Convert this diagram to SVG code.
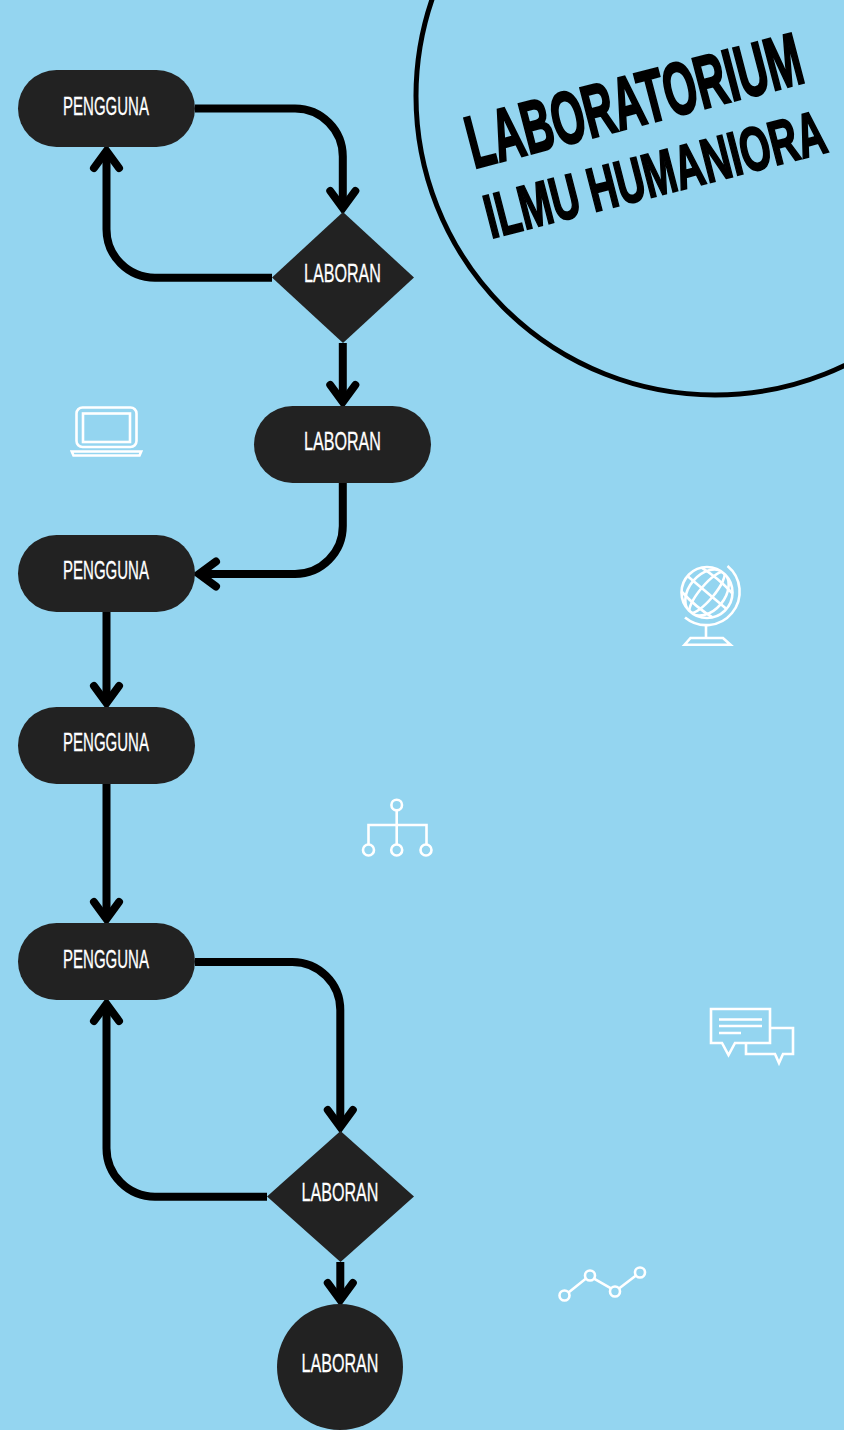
<svg xmlns="http://www.w3.org/2000/svg" width="844" height="1430" viewBox="0 0 844 1430">
<style>
.node{fill:#222222}
.lbl{font-family:"Liberation Sans",Arial,sans-serif;font-size:26.500px;fill:#ffffff;stroke:#ffffff;stroke-width:.3;text-anchor:middle}
.title{font-family:"Liberation Sans",Arial,sans-serif;font-weight:700;fill:#000000;stroke:#000000}
.conn{fill:none;stroke:#000000;stroke-width:8;marker-end:url(#chev)}
.icon{fill:none;stroke:#ffffff;stroke-width:2.600}
</style>
<defs>
<marker id="chev" markerUnits="userSpaceOnUse" markerWidth="40" markerHeight="40" refX="20" refY="20" orient="auto" overflow="visible">
<path d="M3,7.500 L20,20 L3,32.500" fill="none" stroke="#000000" stroke-width="8" stroke-linecap="round" stroke-linejoin="miter"/>
</marker>
<clipPath id="globeClip"><circle cx="707" cy="592.500" r="25"/></clipPath>
</defs>
<rect width="844" height="1430" fill="#94d5f0"/>
<g id="title">
<circle cx="715" cy="96" r="299" fill="none" stroke="#000000" stroke-width="5"/>
<text class="title" font-size="74" stroke-width="2.500" textLength="593" lengthAdjust="spacingAndGlyphs" transform="translate(474,168.500) rotate(-14.600) scale(.58,1)">LABORATORIUM</text>
<text class="title" font-size="62" stroke-width="2" textLength="555" lengthAdjust="spacingAndGlyphs" transform="translate(491,238.500) rotate(-14.400) scale(.63,1)">ILMU HUMANIORA</text>
</g>
<g id="connectors">
<path class="conn" d="M195,108.500 H295 A48,48 0 0 1 342.800,156.500 V208"/>
<path class="conn" d="M272,277.700 H155 A48.500,48.500 0 0 1 106.500,229 V151"/>
<path class="conn" d="M342.800,343 V402"/>
<path class="conn" d="M342.800,483 V526 A48,48 0 0 1 295,574 H199"/>
<path class="conn" d="M106.500,612 V703"/>
<path class="conn" d="M106.500,784 V919"/>
<path class="conn" d="M195,962 H292 A48,48 0 0 1 340.300,1010 V1127"/>
<path class="conn" d="M267,1196.700 H155 A48.500,48.500 0 0 1 106.500,1148 V1004"/>
<path class="conn" d="M340.300,1262 V1300"/>
</g>
<g id="n1"><rect class="node" x="18" y="70" width="177" height="77" rx="38.500"/><text class="lbl" textLength="150" lengthAdjust="spacingAndGlyphs" transform="translate(106,114.500) scale(.573,1)">PENGGUNA</text></g>
<g id="n2"><polygon class="node" points="343,212 414,277.500 343,343 272,277.500"/><text class="lbl" textLength="126" lengthAdjust="spacingAndGlyphs" transform="translate(342.500,281.500) scale(.611,1)">LABORAN</text></g>
<g id="n3"><rect class="node" x="254" y="406" width="177" height="77" rx="38.500"/><text class="lbl" textLength="126" lengthAdjust="spacingAndGlyphs" transform="translate(342.500,449.500) scale(.611,1)">LABORAN</text></g>
<g id="n4"><rect class="node" x="18" y="535" width="177" height="77" rx="38.500"/><text class="lbl" textLength="150" lengthAdjust="spacingAndGlyphs" transform="translate(106,578.500) scale(.573,1)">PENGGUNA</text></g>
<g id="n5"><rect class="node" x="18" y="707" width="177" height="77" rx="38.500"/><text class="lbl" textLength="150" lengthAdjust="spacingAndGlyphs" transform="translate(106,750.500) scale(.573,1)">PENGGUNA</text></g>
<g id="n6"><rect class="node" x="18" y="923" width="177" height="77" rx="38.500"/><text class="lbl" textLength="150" lengthAdjust="spacingAndGlyphs" transform="translate(106,967.500) scale(.573,1)">PENGGUNA</text></g>
<g id="n7"><polygon class="node" points="340.500,1131 414,1196.500 340.500,1262 267,1196.500"/><text class="lbl" textLength="126" lengthAdjust="spacingAndGlyphs" transform="translate(340,1200.500) scale(.611,1)">LABORAN</text></g>
<g id="n8"><circle class="node" cx="340" cy="1367" r="63"/><text class="lbl" textLength="126" lengthAdjust="spacingAndGlyphs" transform="translate(340,1371.500) scale(.611,1)">LABORAN</text></g>
<g id="icon-laptop" class="icon">
<rect x="76.500" y="407.500" width="60" height="39.500" rx="6"/>
<rect x="83" y="413.500" width="47" height="28.500"/>
<polygon points="71.800,451.500 141.200,451.500 139.500,455.500 73.500,455.500"/>
</g>
<g id="icon-globe" class="icon">
<circle cx="707" cy="592.500" r="25.500"/>
<g clip-path="url(#globeClip)">
<g transform="rotate(40 707 592.500)">
<ellipse cx="707" cy="592.500" rx="7" ry="26"/>
<ellipse cx="707" cy="592.500" rx="18" ry="26"/>
<path d="M680,578 Q707,573 734,578 M678,592.500 H736 M680,607 Q707,612 734,607"/>
</g>
</g>
<path d="M727.500,566 A33,33 0 0 1 685,617.500"/>
<path d="M706,625 V638"/>
<polygon points="684.500,644.800 690.500,638 723,638 730.500,644.800"/>
</g>
<g id="icon-tree" class="icon">
<circle cx="396.700" cy="805" r="5.300"/>
<path d="M396.700,810.500 V844 M368.500,844 V825 H426.500 V844"/>
<circle cx="368.500" cy="850" r="5.500"/>
<circle cx="396.700" cy="850" r="5.500"/>
<circle cx="426" cy="850" r="5.500"/>
</g>
<g id="icon-chat" class="icon">
<path d="M722,1043 H711 V1009 H770 V1043 H735 L728.500,1055 Z"/>
<path d="M719,1019.500 H762 M719,1026 H762 M719,1033 H741"/>
<path d="M770,1028 H793 V1054 H783 L779,1063 L775,1054 H746 V1043"/>
</g>
<g id="icon-trend" class="icon">
<circle cx="564.500" cy="1295.500" r="5"/>
<circle cx="590" cy="1275.500" r="5"/>
<circle cx="615" cy="1291.500" r="5"/>
<circle cx="640" cy="1272.500" r="5"/>
<path d="M568.500,1292.400 L586,1278.600 M594,1278.600 L611,1288.400 M619,1288.500 L636,1275.500"/>
</g>
</svg>
